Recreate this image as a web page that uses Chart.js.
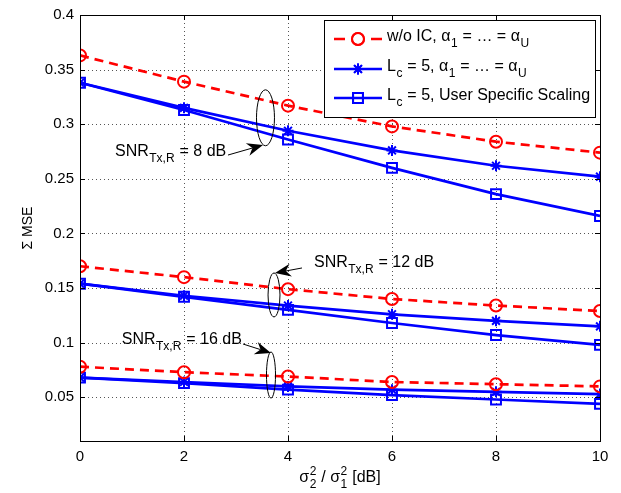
<!DOCTYPE html>
<html><head><meta charset="utf-8">
<script src="https://cdn.jsdelivr.net/npm/chart.js@4.4.0/dist/chart.umd.min.js"></script>
<style>html,body{margin:0;padding:0;background:#fff}canvas{display:block}</style>
</head><body>
<canvas id="c" width="621" height="493"></canvas>
<script>
// ---- data ----
const xValues = [0, 2, 4, 6, 8, 10];
const xTicks = [0, 2, 4, 6, 8, 10];
const yTicks = [0.05, 0.1, 0.15, 0.2, 0.25, 0.3, 0.35, 0.4];

const woIC_8  = [0.363, 0.339, 0.317, 0.298, 0.284, 0.274];
const lcEq_8  = [0.338, 0.315, 0.294, 0.276, 0.262, 0.252];
const lcUs_8  = [0.338, 0.313, 0.286, 0.260, 0.236, 0.216];

const woIC_12 = [0.170, 0.160, 0.149, 0.140, 0.134, 0.129];
const lcEq_12 = [0.154, 0.143, 0.134, 0.126, 0.120, 0.115];
const lcUs_12 = [0.154, 0.142, 0.130, 0.118, 0.107, 0.098];

const woIC_16 = [0.078, 0.073, 0.069, 0.064, 0.062, 0.060];
const lcEq_16 = [0.068, 0.064, 0.060, 0.057, 0.055, 0.053];
const lcUs_16 = [0.068, 0.063, 0.057, 0.052, 0.048, 0.044];

const snrLabels = ['8', '12', '16'];

// ---- styles ----
const RED = '#ff0000', BLUE = '#0000ff';
const FONT = '"Liberation Sans", Arial, Helvetica, sans-serif';
const styles = {
  woIC: {borderColor: RED, borderDash: [9, 6], pointStyle: 'circle', pointRadius: 6},
  lcEq: {borderColor: BLUE, borderDash: [], pointStyle: 'star', pointRadius: 5.5},
  lcUs: {borderColor: BLUE, borderDash: [], pointStyle: 'rect', pointRadius: 7}
};
const groups = [
  {woIC: woIC_8, lcEq: lcEq_8, lcUs: lcUs_8},
  {woIC: woIC_12, lcEq: lcEq_12, lcUs: lcUs_12},
  {woIC: woIC_16, lcEq: lcEq_16, lcUs: lcUs_16}
];

const datasets = [];
groups.forEach((g, gi) => {
  ['woIC', 'lcEq', 'lcUs'].forEach(k => {
    const s = styles[k];
    datasets.push({
      label: k + '_' + snrLabels[gi],
      data: xValues.map((x, i) => ({x: x, y: g[k][i]})),
      borderColor: s.borderColor,
      borderWidth: 2.7,
      borderDash: s.borderDash,
      pointStyle: s.pointStyle,
      pointRadius: s.pointRadius,
      pointBorderWidth: 2,
      pointBorderColor: s.borderColor,
      pointBackgroundColor: 'rgba(0,0,0,0)',
      fill: false,
      tension: 0
    });
  });
});

// annotation layout (data units)
const annots = [
  {snr: '8',  ex: 3.567, ey: 0.3059, erx: 0.173, ery: 0.0256, ax0: 2.846, ay0: 0.2718, ax1: 3.519, ay1: 0.2810, tx: 0.673, ty: 0.2746},
  {snr: '12', ex: 3.731, ey: 0.1437, erx: 0.115, ery: 0.0201, ax0: 4.269, ay0: 0.1684, ax1: 3.750, ay1: 0.1638, tx: 4.500, ty: 0.1730},
  {snr: '16', ex: 3.673, ey: 0.0704, erx: 0.087, ery: 0.0211, ax0: 3.135, ay0: 0.0988, ax1: 3.673, ay1: 0.0906, tx: 0.802, ty: 0.1025}
];

// ---- rich text helper ----
function richWidth(ctx, parts, size) {
  let w = 0;
  parts.forEach(p => {
    if (p.t !== undefined) { ctx.font = size + 'px ' + FONT; w += ctx.measureText(p.t).width; }
    else {
      ctx.font = Math.round(size * 0.72) + 'px ' + FONT;
      const a = p.sub ? ctx.measureText(p.sub).width : 0;
      const b = p.sup ? ctx.measureText(p.sup).width : 0;
      w += Math.max(a, b) + 1;
    }
  });
  return w;
}
function drawRich(ctx, parts, x, y, size, align) {
  const total = richWidth(ctx, parts, size);
  let cx = align === 'center' ? x - total / 2 : x;
  ctx.textBaseline = 'middle';
  ctx.textAlign = 'left';
  ctx.fillStyle = '#000';
  parts.forEach(p => {
    if (p.t !== undefined) {
      ctx.font = size + 'px ' + FONT;
      ctx.fillText(p.t, cx, y);
      cx += ctx.measureText(p.t).width;
    } else {
      const s2 = Math.round(size * 0.72);
      ctx.font = s2 + 'px ' + FONT;
      let w = 0;
      if (p.sub) { ctx.fillText(p.sub, cx + 0.5, y + size * 0.42); w = Math.max(w, ctx.measureText(p.sub).width); }
      if (p.sup) { ctx.fillText(p.sup, cx + 0.5, y - size * 0.42); w = Math.max(w, ctx.measureText(p.sup).width); }
      cx += w + 1;
    }
  });
}

function drawMarker(ctx, style, x, y) {
  ctx.save();
  ctx.setLineDash([]);
  ctx.lineWidth = 2;
  Chart.helpers.drawPoint(ctx, {pointStyle: style.pointStyle, radius: style.pointRadius, rotation: 0, borderWidth: 2}, x, y);
  ctx.stroke();
  ctx.restore();
}

const customPlugin = {
  id: 'custom',
  beforeDatasetsDraw(chart) {
    const ctx = chart.ctx, a = chart.chartArea;
    const xs = chart.scales.x, ys = chart.scales.y;
    ctx.save();
    ctx.strokeStyle = '#555';
    ctx.lineWidth = 1;
    ctx.setLineDash([1, 3]);
    xTicks.forEach(v => {
      if (v === xs.min || v === xs.max) return;
      const px = Math.round(xs.getPixelForValue(v)) + 0.5;
      ctx.beginPath(); ctx.moveTo(px, a.top); ctx.lineTo(px, a.bottom); ctx.stroke();
    });
    yTicks.forEach(v => {
      if (v === ys.max) return;
      const py = Math.round(ys.getPixelForValue(v)) + 0.5;
      ctx.beginPath(); ctx.moveTo(a.left, py); ctx.lineTo(a.right, py); ctx.stroke();
    });
    ctx.restore();
  },
  afterDatasetsDraw(chart) {
    const ctx = chart.ctx, a = chart.chartArea;
    const xs = chart.scales.x, ys = chart.scales.y;
    const X = v => xs.getPixelForValue(v), Y = v => ys.getPixelForValue(v);
    ctx.save();
    // box
    ctx.setLineDash([]);
    ctx.strokeStyle = '#000';
    ctx.lineWidth = 1;
    ctx.strokeRect(Math.round(a.left) + 0.5, Math.round(a.top) + 0.5, Math.round(a.right - a.left), Math.round(a.bottom - a.top));
    // inner ticks
    const tl = 5;
    xTicks.forEach(v => {
      const px = Math.round(X(v)) + 0.5;
      ctx.beginPath();
      ctx.moveTo(px, a.bottom); ctx.lineTo(px, a.bottom - tl);
      ctx.moveTo(px, a.top); ctx.lineTo(px, a.top + tl);
      ctx.stroke();
    });
    yTicks.forEach(v => {
      const py = Math.round(Y(v)) + 0.5;
      ctx.beginPath();
      ctx.moveTo(a.left, py); ctx.lineTo(a.left + tl, py);
      ctx.moveTo(a.right, py); ctx.lineTo(a.right - tl, py);
      ctx.stroke();
    });
    // annotations
    annots.forEach(an => {
      ctx.strokeStyle = '#000';
      ctx.fillStyle = '#000';
      ctx.lineWidth = 1;
      const cx = X(an.ex), cy = Y(an.ey);
      const rx = Math.abs(X(an.ex + an.erx) - cx), ry = Math.abs(Y(an.ey + an.ery) - cy);
      ctx.beginPath(); ctx.ellipse(cx, cy, rx, ry, 0, 0, Math.PI * 2); ctx.stroke();
      const x0 = X(an.ax0), y0 = Y(an.ay0), x1 = X(an.ax1), y1 = Y(an.ay1);
      const ang = Math.atan2(y1 - y0, x1 - x0);
      const L = 16, W = 6.5, N = 5;
      const bx = x1 - L * Math.cos(ang), by = y1 - L * Math.sin(ang);
      ctx.beginPath(); ctx.moveTo(x0, y0); ctx.lineTo(x1 - (L - N) * Math.cos(ang), y1 - (L - N) * Math.sin(ang)); ctx.stroke();
      ctx.beginPath();
      ctx.moveTo(x1, y1);
      ctx.lineTo(bx + W * Math.sin(ang), by - W * Math.cos(ang));
      ctx.lineTo(x1 - (L - N) * Math.cos(ang), y1 - (L - N) * Math.sin(ang));
      ctx.lineTo(bx - W * Math.sin(ang), by + W * Math.cos(ang));
      ctx.closePath(); ctx.fill();
      drawRich(ctx, [{t: 'SNR'}, {sub: 'Tx,R'}, {t: ' = ' + an.snr + ' dB'}], X(an.tx), Y(an.ty), 16, 'left');
    });
    // legend
    const lx0 = a.right - 276, ly0 = a.top + 5, lw = 271, lh = 97;
    ctx.fillStyle = '#fff';
    ctx.fillRect(lx0, ly0, lw, lh);
    ctx.strokeStyle = '#000';
    ctx.lineWidth = 1;
    ctx.strokeRect(Math.round(lx0) + 0.5, Math.round(ly0) + 0.5, lw, lh);
    const rows = [
      {st: styles.woIC, y: ly0 + 19, parts: [{t: 'w/o IC, α'}, {sub: '1'}, {t: ' = … = α'}, {sub: 'U'}]},
      {st: styles.lcEq, y: ly0 + 49, parts: [{t: 'L'}, {sub: 'c'}, {t: ' = 5, α'}, {sub: '1'}, {t: ' = … = α'}, {sub: 'U'}]},
      {st: styles.lcUs, y: ly0 + 78, parts: [{t: 'L'}, {sub: 'c'}, {t: ' = 5, User Specific Scaling'}]}
    ];
    rows.forEach(r => {
      const sx0 = lx0 + 10, sx1 = lx0 + 58, mx = (sx0 + sx1) / 2;
      ctx.strokeStyle = r.st.borderColor;
      ctx.lineWidth = 2.7;
      ctx.setLineDash([]);
      if (r.st.borderDash.length) {
        ctx.beginPath(); ctx.moveTo(sx0, r.y); ctx.lineTo(sx0 + 11, r.y); ctx.moveTo(sx1 - 11, r.y); ctx.lineTo(sx1, r.y); ctx.stroke();
      } else {
        ctx.beginPath(); ctx.moveTo(sx0, r.y); ctx.lineTo(sx1, r.y); ctx.stroke();
      }
      ctx.fillStyle = 'rgba(0,0,0,0)';
      drawMarker(ctx, r.st, mx, r.y);
      drawRich(ctx, r.parts, lx0 + 63, r.y - 2, 16, 'left');
    });
    // axis titles
    drawRich(ctx, [{t: 'σ'}, {sub: '2', sup: '2'}, {t: ' / σ'}, {sub: '1', sup: '2'}, {t: ' [dB]'}], (a.left + a.right) / 2, a.bottom + 37, 16, 'center');
    ctx.save();
    ctx.translate(28, (a.top + a.bottom) / 2);
    ctx.rotate(-Math.PI / 2);
    ctx.font = '14px ' + FONT;
    ctx.textAlign = 'center';
    ctx.textBaseline = 'middle';
    ctx.fillStyle = '#000';
    ctx.fillText('Σ MSE', 0, 0);
    ctx.restore();
    ctx.restore();
  }
};

new Chart(document.getElementById('c'), {
  type: 'line',
  data: {datasets: datasets},
  options: {
    responsive: false,
    devicePixelRatio: 1,
    animation: false,
    layout: {padding: {top: 15, right: 21, left: 0, bottom: 0}},
    plugins: {legend: {display: false}, tooltip: {enabled: false}},
    scales: {
      x: {
        type: 'linear', min: 0, max: 10,
        afterBuildTicks: s => { s.ticks = xTicks.map(v => ({value: v})); },
        afterFit: s => { s.height = 52; },
        grid: {display: false, drawTicks: false},
        border: {display: false},
        ticks: {color: '#000', font: {family: FONT, size: 15}, padding: 7, maxRotation: 0, autoSkip: false}
      },
      y: {
        type: 'linear', min: 0.01, max: 0.4,
        afterBuildTicks: s => { s.ticks = yTicks.map(v => ({value: v})); },
        afterFit: s => { s.width = 80; },
        grid: {display: false, drawTicks: false},
        border: {display: false},
        ticks: {color: '#000', font: {family: FONT, size: 15}, padding: 6, autoSkip: false,
          callback: v => String(+Number(v).toFixed(2))}
      }
    }
  },
  plugins: [customPlugin]
});
</script>
</body></html>
